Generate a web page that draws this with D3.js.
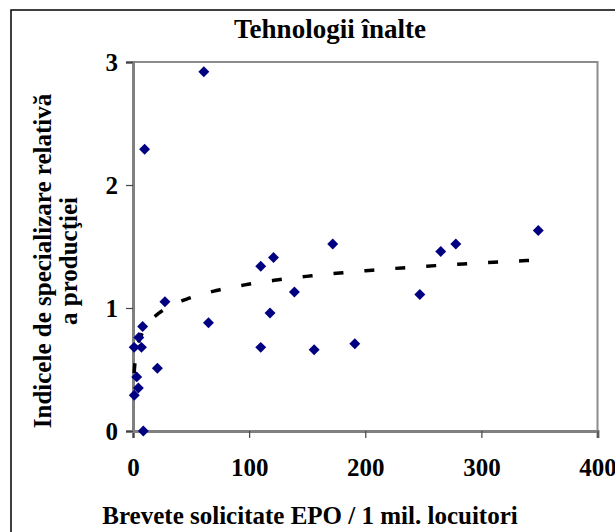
<!DOCTYPE html>
<html>
<head>
<meta charset="utf-8">
<script src="https://cdn.jsdelivr.net/npm/d3@7"></script>
<style>
  html, body { margin: 0; padding: 0; background: #fff; }
  svg { display: block; }
  text { font-family: "Liberation Serif", "Times New Roman", serif; font-weight: bold; fill: #000; }
</style>
</head>
<body>
<svg id="chart" width="615" height="532"></svg>
<script>
// Patents per million inhabitants (x) vs. production specialisation index (y)
const patentsEPO = [61, 10, 27.5, 8.3, 5.0, 1.0, 7.3, 21, 3.2, 4.6, 1.1, 8.9,
                    65, 110, 118, 139, 110, 121, 172, 156, 191, 247, 265, 278, 349];
const specIndex  = [2.92, 2.29, 1.05, 0.85, 0.76, 0.68, 0.68, 0.51, 0.44, 0.35, 0.29, 0.0,
                    0.88, 0.68, 0.96, 1.13, 1.34, 1.41, 1.52, 0.66, 0.71, 1.11, 1.46, 1.52, 1.63];
const xTicks = [0, 100, 200, 300, 400];
const yTicks = [0, 1, 2, 3];

const titleText = "Tehnologii înalte";
const xTitle = "Brevete solicitate EPO / 1 mil. locuitori";
const yTitleLines = ["Indicele de specializare relativă", "a producţiei"];

const svg = d3.select("#chart");
const plot = { left: 133, top: 62, right: 597.5, bottom: 431 };

const x = d3.scaleLinear().domain([0, 400]).range([plot.left, plot.right]);
const y = d3.scaleLinear().domain([0, 3]).range([plot.bottom, plot.top]);

// outer chart border
svg.append("rect")
  .attr("x", 11).attr("y", 10).attr("width", 640).attr("height", 560)
  .attr("fill", "none").attr("stroke", "#000").attr("stroke-width", 1.5);

// plot area frame
svg.append("rect")
  .attr("x", plot.left).attr("y", plot.top)
  .attr("width", plot.right - plot.left).attr("height", plot.bottom - plot.top)
  .attr("fill", "none").attr("stroke", "#8c8c8c").attr("stroke-width", 2);

// axes
const xAxis = svg.append("g")
  .attr("transform", `translate(0,${plot.bottom})`)
  .call(d3.axisBottom(x).tickValues(xTicks).tickSize(7).tickPadding(20).tickFormat(d3.format("d")));
const yAxis = svg.append("g")
  .attr("transform", `translate(${plot.left},0)`)
  .call(d3.axisLeft(y).tickValues(yTicks).tickSize(7).tickPadding(8).tickFormat(d3.format("d")));

[xAxis, yAxis].forEach(g => {
  g.select(".domain").attr("stroke", "#808080").attr("stroke-width", 3);
  g.selectAll(".tick line").attr("stroke", "#444").attr("stroke-width", 1.2);
  g.selectAll(".tick text")
    .attr("font-family", "Liberation Serif, Times New Roman, serif")
    .attr("font-weight", "bold").attr("font-size", 25).attr("fill", "#000");
});
yAxis.selectAll(".tick text").attr("dy", "0.35em");

// logarithmic trend line fitted by least squares: y = a*ln(x) + b
const lnX = patentsEPO.map(v => Math.log(v));
const mL = d3.mean(lnX), mY = d3.mean(specIndex);
const a = d3.sum(lnX, (l, i) => (l - mL) * (specIndex[i] - mY)) / d3.sum(lnX, l => (l - mL) ** 2);
const b = mY - a * mL;
const xMin = d3.min(patentsEPO), xMax = d3.max(patentsEPO);
const trendX = d3.range(0, 201).map(i => xMin * Math.pow(xMax / xMin, i / 200));
svg.append("path")
  .datum(trendX)
  .attr("fill", "none").attr("stroke", "#000").attr("stroke-width", 3.5)
  .attr("stroke-dasharray", "10,21")
  .attr("d", d3.line().x(d => x(d)).y(d => y(a * Math.log(d) + b)));

// data points as diamonds
const diamond = d3.symbol().type(d3.symbolSquare).size(60);
svg.append("g").selectAll("path")
  .data(patentsEPO.map((v, i) => [v, specIndex[i]]))
  .join("path")
  .attr("d", diamond)
  .attr("transform", d => `translate(${x(d[0])},${y(d[1])}) rotate(45)`)
  .attr("fill", "#000080");

// titles
svg.append("text").attr("x", 330).attr("y", 38).attr("text-anchor", "middle")
  .attr("font-size", 27).text(titleText);
svg.append("text").attr("x", 310).attr("y", 524)
  .attr("text-anchor", "middle").attr("font-size", 25).text(xTitle);
yTitleLines.forEach((t, i) => {
  svg.append("text")
    .attr("transform", `translate(${51 + i * 26},261) rotate(-90)`)
    .attr("text-anchor", "middle").attr("font-size", 25).text(t);
});
</script>
</body>
</html>
